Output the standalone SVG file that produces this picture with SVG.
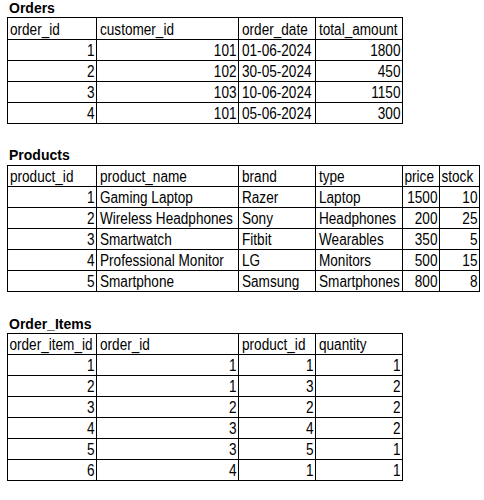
<svg xmlns="http://www.w3.org/2000/svg" width="484" height="500" viewBox="0 0 484 500">
<style>
  .bg { fill: #ffffff; }
  .grid line, .grid rect { stroke: #000000; stroke-width: 1; fill: none; shape-rendering: crispEdges; }
  .title { font-family: "Liberation Sans", Arial, sans-serif; font-size: 14px; font-weight: bold; fill: #000000; }
  .cell { font-family: "Liberation Sans", Arial, sans-serif; font-size: 13.6px; fill: #000000; }
  .r { text-anchor: end; }
</style>
<rect class="bg" x="0" y="0" width="484" height="500"/>

<g id="orders">
  <text class="title" x="9" y="13">Orders</text>
  <g class="grid">
    <rect x="7.5" y="17.5" width="395" height="106"/>
    <line x1="7.5" y1="39.5" x2="402.5" y2="39.5"/>
    <line x1="7.5" y1="60.5" x2="402.5" y2="60.5"/>
    <line x1="7.5" y1="81.5" x2="402.5" y2="81.5"/>
    <line x1="7.5" y1="102.5" x2="402.5" y2="102.5"/>
    <line x1="96.5" y1="17.5" x2="96.5" y2="123.5"/>
    <line x1="238.5" y1="17.5" x2="238.5" y2="123.5"/>
    <line x1="315.5" y1="17.5" x2="315.5" y2="123.5"/>
  </g>
  <g class="cell" transform="translate(0,34.5) scale(1,1.18)">
    <text x="10">order_id</text><text x="100">customer_id</text><text x="242">order_date</text><text x="319">total_amount</text>
  </g>
  <g class="cell" transform="translate(0,55.5) scale(1,1.18)">
    <text class="r" x="94.5">1</text><text class="r" x="236.5">101</text><text x="242">01-06-2024</text><text class="r" x="400.5">1800</text>
  </g>
  <g class="cell" transform="translate(0,76.5) scale(1,1.18)">
    <text class="r" x="94.5">2</text><text class="r" x="236.5">102</text><text x="242">30-05-2024</text><text class="r" x="400.5">450</text>
  </g>
  <g class="cell" transform="translate(0,97.5) scale(1,1.18)">
    <text class="r" x="94.5">3</text><text class="r" x="236.5">103</text><text x="242">10-06-2024</text><text class="r" x="400.5">1150</text>
  </g>
  <g class="cell" transform="translate(0,118.5) scale(1,1.18)">
    <text class="r" x="94.5">4</text><text class="r" x="236.5">101</text><text x="242">05-06-2024</text><text class="r" x="400.5">300</text>
  </g>
</g>

<g id="products">
  <text class="title" x="9" y="160">Products</text>
  <g class="grid">
    <rect x="7.5" y="165.5" width="472" height="126"/>
    <line x1="7.5" y1="186.5" x2="479.5" y2="186.5"/>
    <line x1="7.5" y1="207.5" x2="479.5" y2="207.5"/>
    <line x1="7.5" y1="228.5" x2="479.5" y2="228.5"/>
    <line x1="7.5" y1="249.5" x2="479.5" y2="249.5"/>
    <line x1="7.5" y1="270.5" x2="479.5" y2="270.5"/>
    <line x1="96.5" y1="165.5" x2="96.5" y2="291.5"/>
    <line x1="238.5" y1="165.5" x2="238.5" y2="291.5"/>
    <line x1="315.5" y1="165.5" x2="315.5" y2="291.5"/>
    <line x1="402.5" y1="165.5" x2="402.5" y2="291.5"/>
    <line x1="439.5" y1="165.5" x2="439.5" y2="291.5"/>
  </g>
  <g class="cell" transform="translate(0,181.5) scale(1,1.18)">
    <text x="10">product_id</text><text x="100">product_name</text><text x="242">brand</text><text x="319">type</text><text x="404.5">price</text><text x="441.5">stock</text>
  </g>
  <g class="cell" transform="translate(0,202.5) scale(1,1.18)">
    <text class="r" x="94.5">1</text><text x="100">Gaming Laptop</text><text x="242">Razer</text><text x="319">Laptop</text><text class="r" x="437.5">1500</text><text class="r" x="477.5">10</text>
  </g>
  <g class="cell" transform="translate(0,223.5) scale(1,1.18)">
    <text class="r" x="94.5">2</text><text x="100">Wireless Headphones</text><text x="242">Sony</text><text x="319">Headphones</text><text class="r" x="437.5">200</text><text class="r" x="477.5">25</text>
  </g>
  <g class="cell" transform="translate(0,244.5) scale(1,1.18)">
    <text class="r" x="94.5">3</text><text x="100">Smartwatch</text><text x="242">Fitbit</text><text x="319">Wearables</text><text class="r" x="437.5">350</text><text class="r" x="477.5">5</text>
  </g>
  <g class="cell" transform="translate(0,265.5) scale(1,1.18)">
    <text class="r" x="94.5">4</text><text x="100">Professional Monitor</text><text x="242">LG</text><text x="319">Monitors</text><text class="r" x="437.5">500</text><text class="r" x="477.5">15</text>
  </g>
  <g class="cell" transform="translate(0,286.5) scale(1,1.18)">
    <text class="r" x="94.5">5</text><text x="100">Smartphone</text><text x="242">Samsung</text><text x="319">Smartphones</text><text class="r" x="437.5">800</text><text class="r" x="477.5">8</text>
  </g>
</g>

<g id="order_items">
  <text class="title" x="9" y="328.5">Order_Items</text>
  <g class="grid">
    <rect x="7.5" y="333.5" width="395" height="147"/>
    <line x1="7.5" y1="354.5" x2="402.5" y2="354.5"/>
    <line x1="7.5" y1="375.5" x2="402.5" y2="375.5"/>
    <line x1="7.5" y1="396.5" x2="402.5" y2="396.5"/>
    <line x1="7.5" y1="417.5" x2="402.5" y2="417.5"/>
    <line x1="7.5" y1="438.5" x2="402.5" y2="438.5"/>
    <line x1="7.5" y1="459.5" x2="402.5" y2="459.5"/>
    <line x1="96.5" y1="333.5" x2="96.5" y2="480.5"/>
    <line x1="238.5" y1="333.5" x2="238.5" y2="480.5"/>
    <line x1="315.5" y1="333.5" x2="315.5" y2="480.5"/>
  </g>
  <g class="cell" transform="translate(0,349.5) scale(1,1.18)">
    <text x="9.5">order_item_id</text><text x="100">order_id</text><text x="242">product_id</text><text x="319">quantity</text>
  </g>
  <g class="cell" transform="translate(0,370.5) scale(1,1.18)">
    <text class="r" x="94.5">1</text><text class="r" x="236.5">1</text><text class="r" x="313.5">1</text><text class="r" x="400.5">1</text>
  </g>
  <g class="cell" transform="translate(0,391.5) scale(1,1.18)">
    <text class="r" x="94.5">2</text><text class="r" x="236.5">1</text><text class="r" x="313.5">3</text><text class="r" x="400.5">2</text>
  </g>
  <g class="cell" transform="translate(0,412.5) scale(1,1.18)">
    <text class="r" x="94.5">3</text><text class="r" x="236.5">2</text><text class="r" x="313.5">2</text><text class="r" x="400.5">2</text>
  </g>
  <g class="cell" transform="translate(0,433.5) scale(1,1.18)">
    <text class="r" x="94.5">4</text><text class="r" x="236.5">3</text><text class="r" x="313.5">4</text><text class="r" x="400.5">2</text>
  </g>
  <g class="cell" transform="translate(0,454.5) scale(1,1.18)">
    <text class="r" x="94.5">5</text><text class="r" x="236.5">3</text><text class="r" x="313.5">5</text><text class="r" x="400.5">1</text>
  </g>
  <g class="cell" transform="translate(0,475.5) scale(1,1.18)">
    <text class="r" x="94.5">6</text><text class="r" x="236.5">4</text><text class="r" x="313.5">1</text><text class="r" x="400.5">1</text>
  </g>
</g>
</svg>
